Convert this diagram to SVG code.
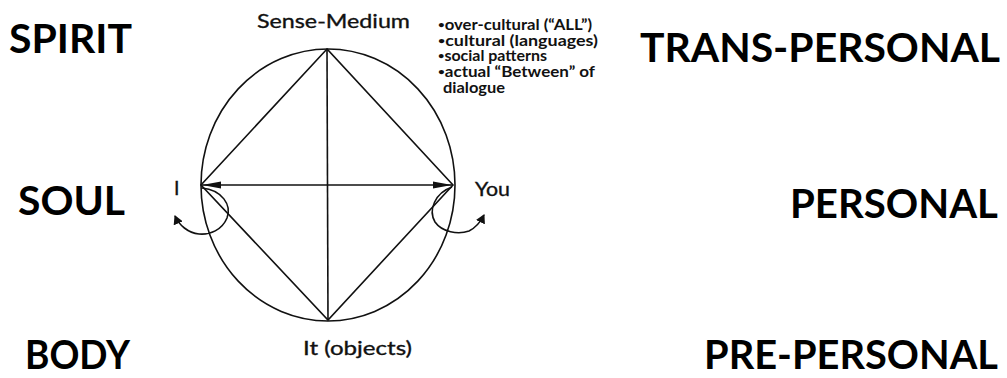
<svg xmlns="http://www.w3.org/2000/svg" width="1007" height="378" viewBox="0 0 1007 378">
<style>
.big{font-family:Lato,"Open Sans","Liberation Sans",sans-serif;font-weight:700;font-size:41px;fill:#000}
.lbl{font-family:Lato,"Open Sans","Liberation Sans",sans-serif;font-weight:400;font-size:19.5px;fill:#111;stroke:#111;stroke-width:0.35}
.lst{font-family:Lato,"Open Sans","Liberation Sans",sans-serif;font-weight:700;font-size:14.5px;fill:#111}
.bl{font-size:10px}
.ln{stroke:#111;stroke-width:1.6;fill:none}
</style>
<defs>
<marker id="ah" markerWidth="20" markerHeight="8" refX="19" refY="4" orient="auto-start-reverse" markerUnits="userSpaceOnUse">
<path d="M0,0.5 L19,4 L0,7.5 Z" fill="#111"/>
</marker>
<marker id="sh" markerWidth="10" markerHeight="10" refX="8" refY="5" orient="auto" markerUnits="userSpaceOnUse">
<path d="M0,0 L9,5 L0,10 Z" fill="#111"/>
</marker>
</defs>
<g id="levels-left">
<text class="big" x="9" y="53" textLength="123" lengthAdjust="spacingAndGlyphs">SPIRIT</text>
<text class="big" x="18" y="215" textLength="107" lengthAdjust="spacingAndGlyphs">SOUL</text>
<text class="big" x="25" y="369" textLength="105" lengthAdjust="spacingAndGlyphs">BODY</text>
</g>
<g id="levels-right">
<text class="big" x="640" y="62" textLength="360" lengthAdjust="spacingAndGlyphs">TRANS-PERSONAL</text>
<text class="big" x="790" y="218" textLength="208" lengthAdjust="spacingAndGlyphs">PERSONAL</text>
<text class="big" x="704" y="369" textLength="294" lengthAdjust="spacingAndGlyphs">PRE-PERSONAL</text>
</g>
<g id="circle">
<ellipse class="ln" cx="328" cy="185" rx="127" ry="136"/>
</g>
<g id="connectors">
<path class="ln" d="M327,49 L201,185 L328,320 L453,185 Z"/>
<line class="ln" x1="327" y1="49" x2="328" y2="320"/>
<line class="ln" x1="202" y1="185" x2="452" y2="185" marker-start="url(#ah)" marker-end="url(#ah)"/>
<path class="ln" d="M202,188 C222,190 232,205 227,218 C222,230 210,235 199,234 C188,233 179,225 175,216" marker-end="url(#sh)"/>
<path class="ln" d="M452,187 C435,193 428,210 435,222 C442,232 458,235 469,231 C477,227 481,221 484,215" marker-end="url(#sh)"/>
</g>
<g id="sense-medium">
<text class="lbl" x="257" y="28" textLength="153" lengthAdjust="spacingAndGlyphs">Sense-Medium</text>
</g>
<g id="list">
<text class="lst" x="438" y="30" textLength="154" lengthAdjust="spacingAndGlyphs"><tspan class="bl" dy="-2">•</tspan><tspan dy="2">over-cultural (“ALL”)</tspan></text>
<text class="lst" x="438" y="45.7" textLength="160" lengthAdjust="spacingAndGlyphs"><tspan class="bl" dy="-2">•</tspan><tspan dy="2">cultural (languages)</tspan></text>
<text class="lst" x="438" y="61.4" textLength="109" lengthAdjust="spacingAndGlyphs"><tspan class="bl" dy="-2">•</tspan><tspan dy="2">social patterns</tspan></text>
<text class="lst" x="438" y="77.1" textLength="157" lengthAdjust="spacingAndGlyphs"><tspan class="bl" dy="-2">•</tspan><tspan dy="2">actual “Between” of</tspan></text>
<text class="lst" x="443" y="93" textLength="62" lengthAdjust="spacingAndGlyphs">dialogue</text>
</g>
<g id="node-I">
<text class="lbl" x="174" y="195" font-size="17">I</text>
</g>
<g id="node-You">
<text class="lbl" x="475" y="196" textLength="35" lengthAdjust="spacingAndGlyphs" font-size="17">You</text>
</g>
<g id="node-It">
<text class="lbl" x="303" y="355" textLength="109" lengthAdjust="spacingAndGlyphs">It (objects)</text>
</g>
</svg>
